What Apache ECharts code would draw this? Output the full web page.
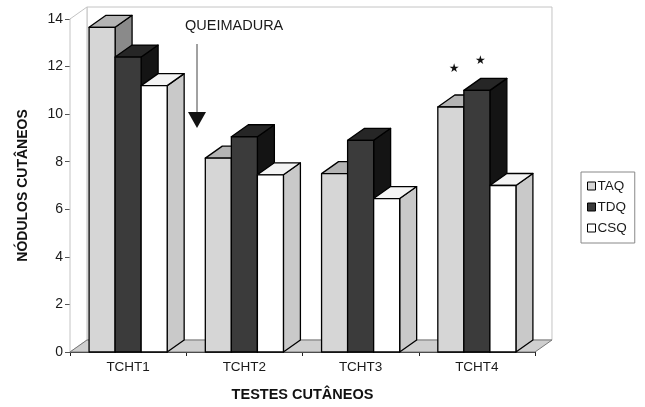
<!DOCTYPE html>
<html>
<head>
<meta charset="utf-8">
<script src="https://cdn.jsdelivr.net/npm/echarts@6/dist/echarts.min.js"></script>
<style>html,body{margin:0;padding:0;background:#fff}#c{width:645px;height:407px}</style>
</head>
<body>
<div id="c"></div>
<script>
const categories = ['TCHT1', 'TCHT2', 'TCHT3', 'TCHT4'];
const seriesNames = ['TAQ', 'TDQ', 'CSQ'];
const taq = [13.65, 8.15, 7.5, 10.3];
const tdq = [12.4, 9.05, 8.9, 11.0];
const csq = [11.2, 7.45, 6.45, 7.0];
// level (axis value) at which a significance star is shown, null = none
const taqStar = [null, null, null, 11.9];
const tdqStar = [null, null, null, 12.25];
const yMin = 0, yMax = 14, yStep = 2;

const FONT = 'Liberation Sans, Arial, sans-serif';
const faces = [
  { front: '#d6d6d6', top: '#b4b4b4', side: '#8a8a8a' },
  { front: '#3b3b3b', top: '#262626', side: '#141414' },
  { front: '#ffffff', top: '#f4f4f4', side: '#c9c9c9' }
];
const BAR_RATIO = 0.224, DEPTH_RATIO = 0.146, DEPTH_DY = -12;

function makeBarRender(idx, stars) {
  return function (params, api) {
    const cat = api.value(0), val = api.value(1);
    const base = api.coord([cat, 0]);
    const top = api.coord([cat, val]);
    const band = api.size([1, 0])[0];
    const bw = band * BAR_RATIO, dx = band * DEPTH_RATIO, dy = DEPTH_DY;
    const x0 = base[0] - 1.5 * bw + idx * bw, x1 = x0 + bw;
    const y0 = base[1], y1 = top[1];
    const f = faces[idx];
    const ls = { stroke: '#000', lineWidth: 1.3, lineJoin: 'round' };
    const children = [
      { type: 'polygon', shape: { points: [[x1, y0], [x1 + dx, y0 + dy], [x1 + dx, y1 + dy], [x1, y1]] }, style: Object.assign({ fill: f.side }, ls) },
      { type: 'polygon', shape: { points: [[x0, y1], [x0 + dx, y1 + dy], [x1 + dx, y1 + dy], [x1, y1]] }, style: Object.assign({ fill: f.top }, ls) },
      { type: 'rect', shape: { x: x0, y: y1, width: bw, height: y0 - y1 }, style: Object.assign({ fill: f.front }, ls) }
    ];
    const s = stars[params.dataIndex];
    if (s != null) {
      const sp = api.coord([cat, s]);
      children.push({ type: 'text', style: { text: '★', x: x0 + bw / 2 + dx * 0.2, y: sp[1], fill: '#111', font: '12px DejaVu Sans', align: 'center', verticalAlign: 'middle' } });
    }
    return { type: 'group', children };
  };
}

function floorRender(params, api) {
  const c0 = api.coord([0, yMin]);
  const cTop = api.coord([0, yMax]);
  const band = api.size([1, 0])[0];
  const dx = band * DEPTH_RATIO, dy = DEPTH_DY;
  const xl = c0[0] - band / 2, xr = xl + band * categories.length;
  const yb = c0[1], yt = cTop[1];
  return {
    type: 'group', children: [
      { type: 'polygon', shape: { points: [[xl + dx, yb + dy], [xr + dx, yb + dy], [xr + dx, yt + dy], [xl + dx, yt + dy]] }, style: { fill: '#fff', stroke: '#c4c4c4', lineWidth: 1 } },
      { type: 'polygon', shape: { points: [[xl, yb], [xl + dx, yb + dy], [xl + dx, yt + dy], [xl, yt]] }, style: { fill: '#fff', stroke: '#c4c4c4', lineWidth: 1 } },
      { type: 'polygon', shape: { points: [[xl, yb], [xr, yb], [xr + dx, yb + dy], [xl + dx, yb + dy]] }, style: { fill: '#cfcfcf', stroke: '#777', lineWidth: 1 } }
    ]
  };
}

const allVals = [taq, tdq, csq];
const allStars = [taqStar, tdqStar, [null, null, null, null]];
const series = [{
  type: 'custom', name: 'floor', renderItem: floorRender, data: [[0, 0]], clip: false, silent: true, z: 1,
  encode: { x: 0, y: 1 }
}];
seriesNames.forEach((n, i) => {
  series.push({
    type: 'custom', name: n, clip: false, z: 2 + i,
    renderItem: makeBarRender(i, allStars[i]),
    itemStyle: { color: faces[i].front, borderColor: '#000', borderWidth: 1 },
    encode: { x: 0, y: 1 },
    data: allVals[i].map((v, k) => [k, v])
  });
});

const chart = echarts.init(document.getElementById('c'), null, { renderer: 'canvas' });
chart.setOption({
  animation: false,
  backgroundColor: '#fff',
  textStyle: { fontFamily: FONT },
  grid: { left: 70, right: 110, top: 19, bottom: 55 },
  xAxis: {
    type: 'category', data: categories, boundaryGap: true,
    name: 'TESTES CUTÂNEOS', nameLocation: 'middle', nameGap: 35,
    nameTextStyle: { fontFamily: FONT, fontWeight: 'bold', fontSize: 14.5, color: '#111' },
    axisLine: { lineStyle: { color: '#222', width: 1 } },
    axisTick: { show: true, length: 4, lineStyle: { color: '#222' } },
    axisLabel: { margin: 8, fontSize: 13.5, color: '#1a1a1a', fontFamily: FONT },
    splitLine: { show: false }
  },
  yAxis: {
    type: 'value', min: yMin, max: yMax, interval: yStep,
    name: 'NÓDULOS CUTÂNEOS', nameLocation: 'middle', nameGap: 40, nameRotate: 90,
    nameTextStyle: { fontFamily: FONT, fontWeight: 'bold', fontSize: 14, color: '#111' },
    axisLine: { show: true, lineStyle: { color: '#555', width: 1 } },
    axisTick: { show: true, length: 5, lineStyle: { color: '#555' } },
    axisLabel: { margin: 7, fontSize: 14, color: '#1a1a1a', fontFamily: FONT },
    splitLine: { show: false }
  },
  legend: {
    data: seriesNames, orient: 'vertical', left: 581, top: 172,
    backgroundColor: '#fff', borderColor: '#888', borderWidth: 1,
    padding: [7, 8, 8, 6], itemWidth: 8, itemHeight: 8, itemGap: 7, icon: 'rect',
    textStyle: { fontSize: 13.5, color: '#1a1a1a', fontFamily: FONT, padding: [0, 0, 0, -3] },
    itemStyle: { borderColor: '#000', borderWidth: 1 }
  },
  graphic: [
    { type: 'text', z: 100, left: 185, top: 18, style: { text: 'QUEIMADURA', font: '14.5px ' + FONT, fill: '#1a1a1a' } },
    { type: 'line', z: 100, shape: { x1: 197, y1: 44, x2: 197, y2: 114 }, style: { stroke: '#444', lineWidth: 1 } },
    { type: 'polygon', z: 100, shape: { points: [[188, 112], [206, 112], [197, 128]] }, style: { fill: '#111' } }
  ],
  series
});
</script>
</body>
</html>
